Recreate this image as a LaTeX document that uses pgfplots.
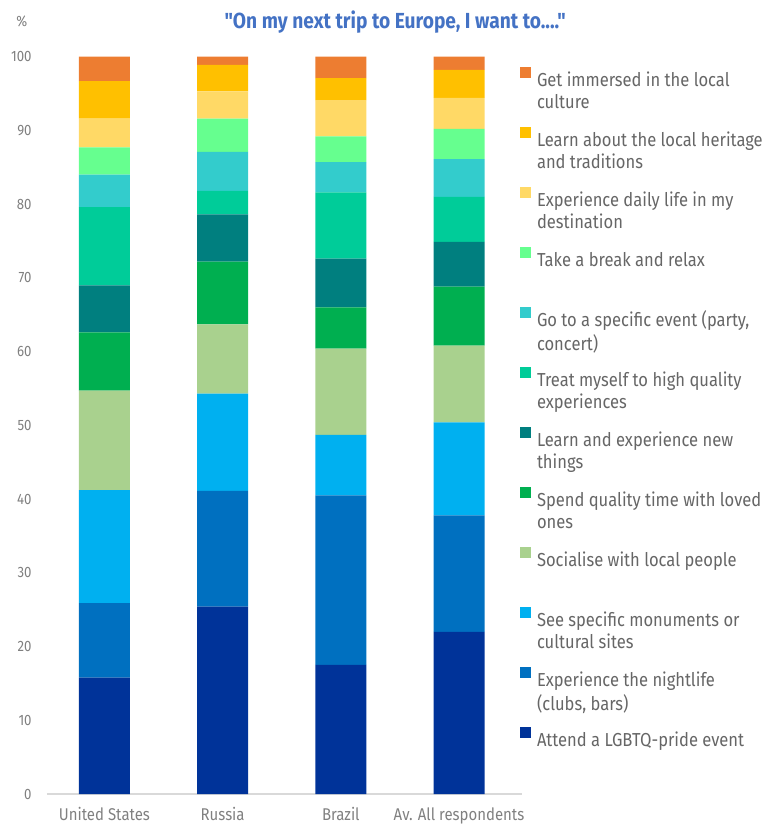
\documentclass[border=0pt]{standalone}
\usepackage{pgfplots}
\pgfplotsset{compat=1.18}
\usepackage{fontspec}
\setmainfont{Fira Sans}[FakeStretch=0.88]
\newfontfamily\plainfont{Fira Sans}[FakeStretch=0.88]

\definecolor{cImm}{HTML}{ED7D31}
\definecolor{cHer}{HTML}{FFC000}
\definecolor{cDay}{HTML}{FFD966}
\definecolor{cRel}{HTML}{66FF8F}
\definecolor{cEve}{HTML}{33CCCC}
\definecolor{cTre}{HTML}{00CC99}
\definecolor{cLea}{HTML}{007F7F}
\definecolor{cLov}{HTML}{00AF50}
\definecolor{cSoc}{HTML}{A9D18E}
\definecolor{cMon}{HTML}{00B0F0}
\definecolor{cNig}{HTML}{0070C0}
\definecolor{cLgb}{HTML}{003399}
\definecolor{tickgray}{HTML}{808080}
\definecolor{leggray}{HTML}{666666}
\definecolor{titleblue}{HTML}{4472C4}

\newcommand{\lent}[2]{\parbox[t]{122pt}{\raggedright\strut #1\\ #2\strut}}

\begin{document}
\begin{tikzpicture}
\begin{axis}[
  at={(0pt,0pt)}, anchor=south west,
  scale only axis, width=237.5pt, height=368.65pt,
  ybar stacked, bar width=25.5pt,
  xmin=-0.486, xmax=3.533, ymin=0, ymax=100,
  enlargelimits=false, clip=false,
  xtick={0,1,2,3},
  xticklabels={United States,Russia,Brazil,Av. All respondents},
  ytick={0,10,...,100},
  axis x line*=bottom, axis y line*=left,
  axis line style={-},
  x axis line style={draw=black!15, line width=0.75pt},
  y axis line style={draw=none},
  major tick length=0pt,
  tick style={draw=none},
  /pgf/number format/assume math mode=true,
  yticklabel style={font=\fontsize{7.5}{9}\selectfont, text=tickgray, anchor=east, inner sep=0pt, xshift=-7.5pt},
  xticklabel style={font=\fontsize{8.5}{10}\selectfont, text=tickgray, anchor=north, inner sep=0pt, yshift=-6.5pt},
  reverse legend,
  legend cell align=left,
  legend image code/.code={\fill[#1] (0pt,1pt) rectangle (5.3pt,6.3pt); \path[draw=none, fill=none] (0pt,-14.3pt) rectangle (0.1pt,7.7pt);},
  legend style={at={(1,1)}, anchor=north west, xshift=-1pt, yshift=-3.7pt,
    draw=none, fill=none, inner sep=0pt, row sep=8pt, column sep=3pt,
    nodes={inner sep=0pt, text=leggray, font=\fontsize{9.4}{11}\selectfont}},
]
\addplot[fill=cLgb, draw=none] coordinates {(0,15.8) (1,25.4) (2,17.5) (3,22.0)};
\addlegendentry{\lent{Attend a LGBTQ-pride event}{}}
\addplot[fill=cNig, draw=none] coordinates {(0,10.1) (1,15.7) (2,23.0) (3,15.8)};
\addlegendentry{\lent{Experience the nightlife}{(clubs, bars)}}
\addplot[fill=cMon, draw=none] coordinates {(0,15.3) (1,13.2) (2,8.2) (3,12.6)};
\addlegendentry{\lent{See specific monuments or}{cultural sites}}
\addplot[fill=cSoc, draw=none] coordinates {(0,13.5) (1,9.4) (2,11.7) (3,10.4)};
\addlegendentry{\lent{Socialise with local people}{}}
\addplot[fill=cLov, draw=none] coordinates {(0,7.9) (1,8.5) (2,5.6) (3,8.0)};
\addlegendentry{\lent{Spend quality time with loved}{ones}}
\addplot[fill=cLea, draw=none] coordinates {(0,6.4) (1,6.4) (2,6.6) (3,6.1)};
\addlegendentry{\lent{Learn and experience new}{things}}
\addplot[fill=cTre, draw=none] coordinates {(0,10.6) (1,3.2) (2,9.0) (3,6.1)};
\addlegendentry{\lent{Treat myself to high quality}{experiences}}
\addplot[fill=cEve, draw=none] coordinates {(0,4.4) (1,5.3) (2,4.1) (3,5.1)};
\addlegendentry{\lent{Go to a specific event (party,}{concert)}}
\addplot[fill=cRel, draw=none] coordinates {(0,3.7) (1,4.5) (2,3.5) (3,4.1)};
\addlegendentry{\lent{Take a break and relax}{}}
\addplot[fill=cDay, draw=none] coordinates {(0,3.9) (1,3.7) (2,4.9) (3,4.2)};
\addlegendentry{\lent{Experience daily life in my}{destination}}
\addplot[fill=cHer, draw=none] coordinates {(0,5.1) (1,3.6) (2,3.0) (3,3.8)};
\addlegendentry{\lent{Learn about the local heritage}{and traditions}}
\addplot[fill=cImm, draw=none] coordinates {(0,3.3) (1,1.1) (2,2.9) (3,1.8)};
\addlegendentry{\lent{Get immersed in the local}{culture}}
\node[font=\plainfont\bfseries\fontsize{10.9}{12}\selectfont, text=titleblue] at (rel axis cs:0.733,1) [yshift=17.35pt] {"On my next trip to Europe, I want to...."};
\node[font=\fontsize{7.5}{9}\selectfont, text=tickgray] at (rel axis cs:0,1) [xshift=-12.6pt, yshift=17.5pt] {\%};
\end{axis}
\pgfresetboundingbox
\path (-23.5pt,-15.5pt) rectangle (362pt,397pt);
\end{tikzpicture}
\end{document}
